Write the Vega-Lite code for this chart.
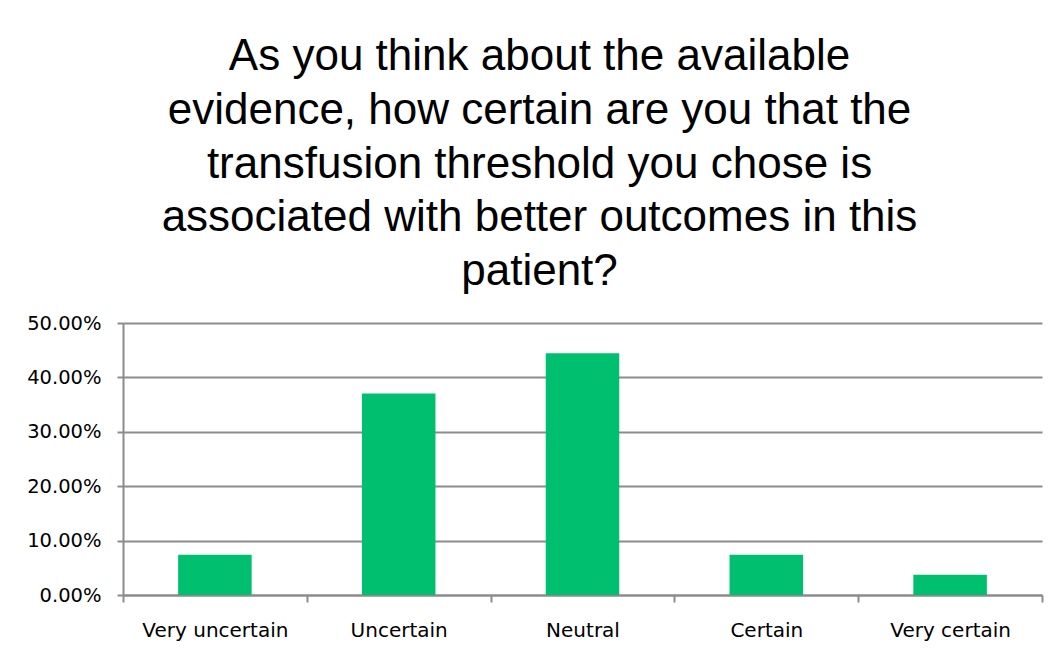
{
  "$schema": "https://vega.github.io/schema/vega-lite/v6.json",
  "autosize": "none",
  "width": 919,
  "height": 272,
  "padding": {"left": 123, "top": 323, "right": 16, "bottom": 60},
  "background": "white",
  "title": {
    "text": ["As you think about the available", "evidence, how certain are you that the", "transfusion threshold you chose is", "associated with better outcomes in this", "patient?"],
    "font": "Liberation Sans",
    "fontSize": 44,
    "fontWeight": "normal",
    "color": "#000000",
    "lineHeight": 53.75,
    "anchor": "middle",
    "frame": "group",
    "dx": -43,
    "offset": 19
  },
  "data": {
    "values": [
      {"response": "Very uncertain", "share": 0.0741},
      {"response": "Uncertain", "share": 0.3704},
      {"response": "Neutral", "share": 0.4444},
      {"response": "Certain", "share": 0.0741},
      {"response": "Very certain", "share": 0.037}
    ]
  },
  "mark": {"type": "bar", "color": "#00BF6F", "width": {"band": 0.4}},
  "encoding": {
    "x": {
      "field": "response",
      "type": "nominal",
      "sort": null,
      "title": null,
      "scale": {"paddingInner": 0, "paddingOuter": 0},
      "axis": {
        "labelAngle": 0,
        "tickBand": "extent",
        "tickSize": 7,
        "tickWidth": 2,
        "tickColor": "#8c8c8c",
        "domainColor": "#8c8c8c",
        "domainWidth": 2,
        "labelFont": "DejaVu Sans",
        "labelFontSize": 20,
        "labelColor": "#000000",
        "labelPadding": 18,
        "grid": false
      }
    },
    "y": {
      "field": "share",
      "type": "quantitative",
      "title": null,
      "scale": {"domain": [0, 0.5], "nice": false},
      "axis": {
        "values": [0, 0.1, 0.2, 0.3, 0.4, 0.5],
        "format": ".2%",
        "grid": true,
        "gridColor": "#8c8c8c",
        "gridWidth": 2,
        "tickSize": 6,
        "tickWidth": 2,
        "tickColor": "#8c8c8c",
        "domainColor": "#8c8c8c",
        "domainWidth": 2,
        "labelFont": "DejaVu Sans",
        "labelFontSize": 19.5,
        "labelColor": "#000000",
        "labelPadding": 16
      }
    }
  },
  "config": {"view": {"stroke": null}}
}
